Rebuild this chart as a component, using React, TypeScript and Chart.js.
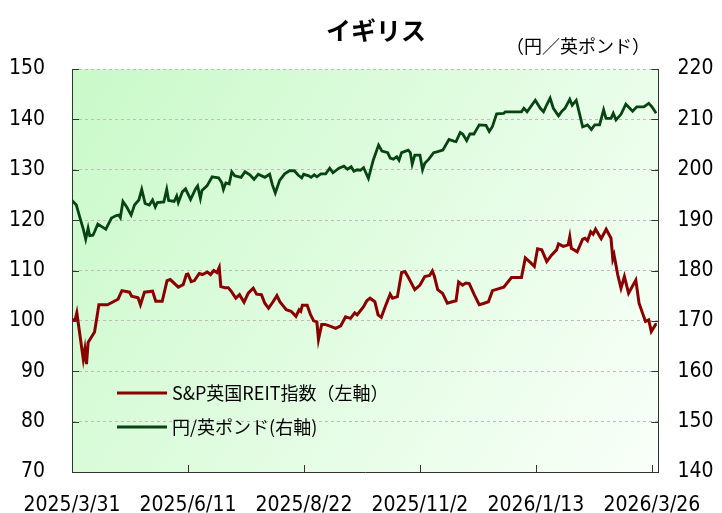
import React, { useEffect, useRef } from "react";
import { Chart, registerables } from "chart.js";

Chart.register(...registerables);

// Days since 2025/3/31
const tickDays = [0, 72, 144, 216, 288, 360];
const tickLabels = ["2025/3/31", "2025/6/11", "2025/8/22", "2025/11/2", "2026/1/13", "2026/3/26"];

const reitDays = [
  0, 2, 3, 5, 7, 8, 9, 10, 14, 16.7, 22, 28.6, 31, 35.7, 37, 41, 42.5, 45, 50, 52, 56, 59, 61, 66, 69, 71, 72, 74, 76,
  79, 81, 84, 86, 88, 90, 91.4, 92.4, 95, 97, 99, 101.7, 104, 106.8, 109.4, 112.5, 114.6, 117.6, 119.7, 122, 124.8,
  127.2, 129, 133, 136, 139, 141, 142, 143, 146, 148, 150, 152, 153, 155, 157, 160.6, 163.7, 166.8, 169.8, 172.9,
  175.5, 177, 179, 181, 183, 185, 188, 190, 192, 194.4, 197.5, 199, 202, 204.6, 206.7, 209, 212.8, 216, 219, 222,
  223.7, 225, 227, 230, 233, 236, 238.4, 240, 242.5, 244.5, 246.6, 249.7, 252.8, 255.8, 258.5, 261, 264, 268, 272.8,
  276, 279, 281.4, 284.5, 287, 289, 291.6, 294.7, 297.8, 300.8, 302, 305, 308, 309, 310, 313.6, 317, 318.5, 320, 322,
  323.5, 325, 328.5, 331.6, 334.6, 335.7, 336.5, 338.8, 340.8, 342.9, 345.5, 350, 352, 356, 358, 359.6, 362.3, 363,
];
const reitValues = [
  100.2, 100.3, 101.6, 97, 92.4, 94.4, 91.4, 95.7, 97.8, 103.2, 103.2, 104.3, 106, 105.7, 104.9, 104.6, 103.2, 105.7,
  105.9, 103.9, 103.9, 108, 108.2, 106.7, 107.2, 109.2, 109.3, 107.8, 108, 109.4, 109.2, 109.7, 109.2, 110, 109.6,
  110.6, 106.8, 106.6, 106.6, 105.8, 104.5, 105.2, 103.7, 105.5, 106.5, 105.3, 105.2, 103.5, 102.5, 103.8, 105, 103.8,
  102.2, 101.9, 100.9, 102.2, 101.9, 103.1, 103.1, 101.3, 100, 99.8, 96.3, 99.3, 99.3, 98.9, 98.5, 99, 100.8, 100.5,
  101.6, 101.2, 102, 102.8, 104, 104.5, 103.8, 101.2, 100.7, 102.8, 105.3, 104.5, 104.8, 109.6, 109.8, 108.5, 106.2,
  107.1, 108.8, 109, 109.9, 108.8, 106.2, 105.5, 103.5, 103.8, 104, 107.7, 107.1, 107.5, 107.4, 105.2, 103.2, 103.5,
  103.8, 106, 106.3, 106.7, 108.6, 108.6, 108.6, 112.5, 111.6, 110.8, 114.3, 114.1, 111.8, 113.1, 114.1, 115.3,
  114.8, 115.1, 116.7, 114.4, 113.7, 116.2, 116.4, 115.9, 117.7, 117.2, 118.2, 116.3, 118.2, 116.4, 112.3, 113.1,
  109.1, 106.5, 108.8, 105.5, 108.1, 103.5, 99.9, 100.2, 97.9, 99.3, 99.3,
];

const fxDays = [
  0, 2.7, 5, 7, 8.5, 10, 11, 13, 14, 16, 18, 21, 24.5, 27.5, 29, 30, 31.6, 34, 36.7, 38.8, 41.5, 43.3, 45.4, 48, 50,
  51.7, 53, 57, 58.8, 60, 63.4, 65, 66, 68.5, 70.5, 73.6, 76.7, 78, 79.7, 80.7, 83.8, 87, 89, 91, 93, 94, 95.5, 97.6,
  99.2, 101, 105, 107.4, 110.4, 113, 115.6, 119.7, 122.7, 124.4, 126.2, 128.9, 132, 135, 138, 140.5, 142.6, 143.8,
  147, 148.4, 150.4, 152, 154.5, 157.5, 160, 162, 165.7, 168.8, 171, 173.3, 175, 177, 179, 181, 184, 187, 190.3, 192.4,
  196, 197.5, 199.5, 201.6, 203, 204.6, 208.7, 210, 211.2, 212.8, 216, 217.6, 219, 221.5, 224.5, 227, 230.2, 234, 237,
  238.4, 241, 242.5, 245, 247, 249.5, 252.8, 257, 259, 261, 263.6, 268, 269, 274, 279, 280.5, 282.5, 287.6, 290.7,
  292.7, 294.7, 296.8, 298.8, 302, 304, 306, 309, 310.5, 313, 315, 317, 320, 322.4, 324.5, 327.5, 330, 331.5, 334.6,
  336, 337.7, 340.8, 343.8, 348, 350.6, 355, 358, 360, 362.6,
];
const fxValues = [
  193.9, 193, 190.4, 188.2, 186.2, 188.4, 186.9, 187, 187.7, 189.2, 188.8, 188.2, 190.4, 190.9, 191, 190.5, 193.7,
  192.6, 191, 193, 194, 196.1, 193.3, 193, 194, 192.6, 193.5, 193.6, 196.1, 193.9, 193.7, 194.8, 193.5, 195.6, 196.2,
  194.1, 196.2, 196.8, 194.3, 195.9, 196.8, 198.6, 198.5, 198.4, 197.4, 196.1, 197.4, 197.2, 199.6, 198.8, 198.5,
  199.6, 199, 198.1, 199.1, 198.5, 199.1, 197, 195.4, 197.9, 199.2, 199.8, 199.8, 198.9, 198.4, 199.1, 198.8, 198.5,
  199, 198.6, 199.2, 199.2, 200.3, 199.4, 200.3, 200.7, 200.1, 200.6, 199.7, 200, 199.9, 200.4, 198.3, 201.9, 204.9,
  203.7, 203.4, 202.3, 202.1, 202.6, 201.9, 203.4, 203.9, 203.4, 201.1, 202.9, 202.9, 200, 201.3, 202.1, 203.4, 203.6,
  203.9, 206, 205.7, 205.6, 207.4, 207.1, 205.8, 207.1, 207.1, 208.9, 208.8, 207.6, 208.6, 211.1, 211.2, 211.5, 211.5,
  211.5, 212.2, 211.5, 213.8, 212.2, 211.5, 212.9, 214.2, 212.2, 210.7, 211.6, 212.2, 214, 212.8, 213.8, 211.2, 208.5,
  208.9, 208, 208.9, 208.9, 211.9, 210.2, 210.2, 211.2, 209.9, 211, 213, 211.6, 212.5, 212.5, 213.2, 212.5, 211.2,
];

const titleText = "イギリス";
const unitText = "（円／英ポンド）";
const reitLabel = "S&P英国REIT指数（左軸）";
const fxLabel = "円/英ポンド(右軸)";

const REIT_COLOR = "#8a0000";
const FX_COLOR = "#084412";
const TICK_FONT = { family: "'DejaVu Sans Condensed', 'DejaVu Sans', sans-serif", size: 21 };
const JP_FONT = "'Noto Sans CJK JP', 'Noto Sans', sans-serif";

const decorPlugin = {
  id: "decor",
  beforeDraw(chart: any) {
    const { ctx, chartArea } = chart;
    const { left, top, right, bottom } = chartArea;
    const g = ctx.createLinearGradient(left, top, right, bottom);
    g.addColorStop(0, "#c9f9c9");
    g.addColorStop(1, "#f9fff9");
    ctx.save();
    ctx.fillStyle = g;
    ctx.fillRect(left, top, right - left, bottom - top);
    ctx.restore();
  },
  afterDatasetsDraw(chart: any) {
    const { ctx, chartArea, scales } = chart;
    const { left, right, bottom } = chartArea;
    ctx.save();
    ctx.strokeStyle = "#333";
    ctx.lineWidth = 1;
    ctx.beginPath();
    scales.y.ticks.forEach((t: any) => {
      const y = Math.round(scales.y.getPixelForValue(t.value)) + 0.5;
      ctx.moveTo(left, y);
      ctx.lineTo(left + 7, y);
    });
    scales.y2.ticks.forEach((t: any) => {
      const y = Math.round(scales.y2.getPixelForValue(t.value)) + 0.5;
      ctx.moveTo(right - 7, y);
      ctx.lineTo(right, y);
    });
    scales.x.ticks.forEach((t: any) => {
      const x = Math.round(scales.x.getPixelForValue(t.value)) + 0.5;
      ctx.moveTo(x, bottom);
      ctx.lineTo(x, bottom - 7);
    });
    ctx.stroke();
    ctx.restore();
  },
  afterDraw(chart: any) {
    const { ctx } = chart;
    ctx.save();
    ctx.fillStyle = "#000";
    ctx.textBaseline = "middle";
    ctx.textAlign = "center";
    ctx.font = `bold 25px ${JP_FONT}`;
    ctx.fillText(titleText, 376, 30);
    ctx.textAlign = "left";
    ctx.font = `18px ${JP_FONT}`;
    ctx.fillText(unitText, 506, 46);

    const items = [
      { label: reitLabel, color: REIT_COLOR, y: 393 },
      { label: fxLabel, color: FX_COLOR, y: 427 },
    ];
    items.forEach((it) => {
      ctx.strokeStyle = it.color;
      ctx.lineWidth = 3;
      ctx.beginPath();
      ctx.moveTo(117, it.y);
      ctx.lineTo(167, it.y);
      ctx.stroke();
      ctx.fillStyle = "#000";
      ctx.font = `18px ${JP_FONT}`;
      ctx.fillText(it.label, 172, it.y);
    });
    ctx.restore();
  },
};

export default function App() {
  const ref = useRef<HTMLCanvasElement | null>(null);

  useEffect(() => {
    if (!ref.current) return;
    const chart = new Chart(ref.current, {
      type: "line",
      data: {
        datasets: [
          {
            label: reitLabel,
            data: reitDays.map((d, i) => ({ x: d, y: reitValues[i] })),
            borderColor: REIT_COLOR,
            borderWidth: 3,
            pointRadius: 0,
            tension: 0,
            yAxisID: "y",
          },
          {
            label: fxLabel,
            data: fxDays.map((d, i) => ({ x: d, y: fxValues[i] })),
            borderColor: FX_COLOR,
            borderWidth: 2.8,
            pointRadius: 0,
            tension: 0,
            yAxisID: "y2",
          },
        ],
      },
      options: {
        responsive: false,
        animation: false,
        layout: { padding: { top: 69, left: 0, right: 0, bottom: 0 } },
        plugins: { legend: { display: false }, tooltip: { enabled: false }, title: { display: false } },
        scales: {
          x: {
            type: "linear",
            min: 0,
            max: 364,
            afterBuildTicks: (s: any) => {
              s.ticks = tickDays.map((v) => ({ value: v }));
            },
            afterFit: (s: any) => {
              s.height = 41;
            },
            ticks: {
              autoSkip: false,
              maxRotation: 0,
              color: "#000",
              font: TICK_FONT,
              padding: 21,
              callback: (v: any) => tickLabels[tickDays.indexOf(Number(v))] ?? "",
            },
            grid: { drawOnChartArea: false, drawTicks: false },
            border: { display: true, color: "#333", width: 1 },
          },
          y: {
            type: "linear",
            position: "left",
            min: 70,
            max: 150,
            afterFit: (s: any) => {
              s.width = 72;
            },
            ticks: { stepSize: 10, color: "#000", font: TICK_FONT, padding: 27 },
            grid: { color: "#bcbcbc", lineWidth: 1, drawTicks: false },
            border: { display: true, color: "#333", width: 1, dash: [3, 3] },
          },
          y2: {
            type: "linear",
            position: "right",
            min: 140,
            max: 220,
            afterFit: (s: any) => {
              s.width = 58;
            },
            ticks: { stepSize: 10, color: "#000", font: TICK_FONT, padding: 19 },
            grid: { drawOnChartArea: false, drawTicks: false },
            border: { display: true, color: "#333", width: 1 },
          },
        },
      },
      plugins: [decorPlugin],
    });
    return () => chart.destroy();
  }, []);

  return (
    <div style={{ position: "absolute", left: 0, top: 0, width: 722, height: 513, background: "#fff" }}>
      <canvas ref={ref} width={722} height={513} style={{ display: "block" }} />
    </div>
  );
}
